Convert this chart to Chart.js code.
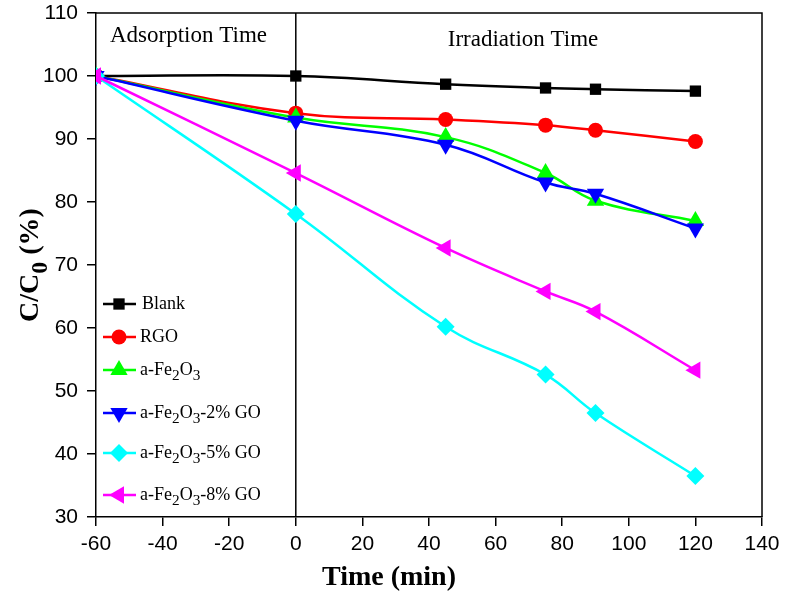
<!DOCTYPE html>
<html lang="en">
<head>
    <meta charset="UTF-8">
    <title>C/C0 vs time</title>
    <script src="https://cdn.jsdelivr.net/npm/chart.js"></script>
    <style>
        html, body { margin: 0; padding: 0; background: #fff; }
        #wrap { width: 786px; height: 596px; }
    </style>
</head>
<body>
<div id="wrap"><canvas id="chart" width="786" height="596"></canvas></div>
<script>
    // data
    const times = [-60, 0, 45, 75, 90, 120];
    const blank = [100, 100, 98.7, 98.1, 97.9, 97.6];
    const rgo = [100, 94.1, 93.1, 92.2, 91.4, 89.6];
    const fe2o3 = [100, 93.4, 90.3, 84.6, 80.2, 77.0];
    const go2 = [100, 92.9, 89.1, 83.1, 81.3, 75.8];
    const go5 = [100, 78.1, 60.2, 52.6, 46.5, 36.5];
    const go8 = [100, 84.6, 72.7, 65.8, 62.6, 53.3];

    const xTicks = [-60, -40, -20, 0, 20, 40, 60, 80, 100, 120, 140];
    const yTicks = [30, 40, 50, 60, 70, 80, 90, 100, 110];

    // label parts: [text, subscript?]
    const labels = [
        [['Blank', false]],
        [['RGO', false]],
        [['a-Fe', false], ['2', true], ['O', false], ['3', true]],
        [['a-Fe', false], ['2', true], ['O', false], ['3', true], ['-2% GO', false]],
        [['a-Fe', false], ['2', true], ['O', false], ['3', true], ['-5% GO', false]],
        [['a-Fe', false], ['2', true], ['O', false], ['3', true], ['-8% GO', false]]
    ];
    const seriesValues = [blank, rgo, fe2o3, go2, go5, go8];
    const colors = ['#000000', '#ff0000', '#00ff00', '#0000ff', '#00ffff', '#ff00ff'];
    const styles = ['rect', 'circle', 'triangle', 'triangle', 'rectRot', 'triangle'];
    const rotations = [0, 0, 0, 180, 0, -90];
    const radii = [8, 7.5, 10, 10, 9, 10];

    const serif = '"Liberation Serif", "Times New Roman", serif';
    const sans = '"Liberation Sans", Arial, sans-serif';

    function drawRich(ctx, parts, x, y, size, bold) {
        ctx.textBaseline = 'middle';
        ctx.textAlign = 'left';
        for (const [t, sub] of parts) {
            const s = sub ? size * 0.85 : size;
            ctx.font = (bold ? 'bold ' : '') + s + 'px ' + serif;
            ctx.fillText(t, x, sub ? y + size * 0.35 : y);
            x += ctx.measureText(t).width;
        }
        return x;
    }

    function richWidth(ctx, parts, size, bold) {
        let w = 0;
        for (const [t, sub] of parts) {
            ctx.font = (bold ? 'bold ' : '') + (sub ? size * 0.85 : size) + 'px ' + serif;
            w += ctx.measureText(t).width;
        }
        return w;
    }

    const datasets = seriesValues.map((vals, i) => ({
        label: labels[i].map(p => p[0]).join(''),
        data: times.map((t, j) => ({ x: t, y: vals[j] })),
        borderColor: colors[i],
        backgroundColor: colors[i],
        borderWidth: 2.5,
        pointStyle: styles[i],
        rotation: rotations[i],
        pointRadius: radii[i],
        pointBorderWidth: 0,
        tension: 0.4,
        order: 6 - i
    }));

    const extras = {
        id: 'extras',
        beforeDatasetsDraw(chart) {
            const { ctx, chartArea: a, scales: { x } } = chart;
            ctx.save();
            ctx.strokeStyle = '#000';
            ctx.lineWidth = 1.5;
            ctx.beginPath();
            ctx.moveTo(a.left, a.top);
            ctx.lineTo(a.right, a.top);
            ctx.lineTo(a.right, a.bottom);
            const x0 = x.getPixelForValue(0);
            ctx.moveTo(x0, a.top);
            ctx.lineTo(x0, a.bottom);
            ctx.stroke();

            ctx.fillStyle = '#000';
            ctx.font = '23px ' + serif;
            ctx.textBaseline = 'middle';
            ctx.textAlign = 'left';
            ctx.fillText('Adsorption Time', 110, 36);
            ctx.textAlign = 'center';
            ctx.fillText('Irradiation Time', 523, 40);
            ctx.restore();
        },
        afterDraw(chart) {
            const { ctx, chartArea: a } = chart;
            ctx.save();
            // legend
            const rowY = [304, 337, 370, 413, 453, 495];
            chart.data.datasets.forEach((ds, i) => {
                const y = rowY[i];
                ctx.strokeStyle = ds.borderColor;
                ctx.lineWidth = 2.5;
                ctx.beginPath();
                ctx.moveTo(103, y);
                ctx.lineTo(136, y);
                ctx.stroke();
                ctx.fillStyle = ds.backgroundColor;
                Chart.helpers.drawPoint(ctx, {
                    pointStyle: ds.pointStyle,
                    rotation: ds.rotation,
                    radius: ds.pointRadius,
                    borderWidth: 0
                }, 119, y);
                ctx.fillStyle = '#000';
                drawRich(ctx, labels[i], i === 0 ? 142 : 140, y, 18, false);
            });

            // axis titles
            ctx.fillStyle = '#000';
            ctx.font = 'bold 28px ' + serif;
            ctx.textAlign = 'center';
            ctx.textBaseline = 'middle';
            ctx.fillText('Time (min)', 389, 578);

            const yParts = [['C/C', false], ['0', true], [' (%)', false]];
            const w = richWidth(ctx, yParts, 28, true);
            ctx.translate(31, (a.top + a.bottom) / 2);
            ctx.rotate(-Math.PI / 2);
            drawRich(ctx, yParts, -w / 2, 0, 28, true);
            ctx.restore();
        }
    };

    new Chart(document.getElementById('chart'), {
        type: 'line',
        data: { datasets },
        options: {
            responsive: false,
            animation: false,
            layout: { padding: { top: 13, right: 24, left: 0, bottom: 0 } },
            plugins: { legend: { display: false }, tooltip: { enabled: false } },
            scales: {
                x: {
                    type: 'linear',
                    min: -60,
                    max: 140,
                    afterBuildTicks: s => { s.ticks = xTicks.map(v => ({ value: v })); },
                    afterFit: s => { s.height = 79; s.paddingLeft = 0; s.paddingRight = 0; },
                    grid: { drawOnChartArea: false, color: '#000', lineWidth: 1.5, tickLength: 9 },
                    border: { color: '#000', width: 1.5 },
                    ticks: { color: '#000', font: { family: sans, size: 21 }, padding: 6, maxRotation: 0 }
                },
                y: {
                    min: 30,
                    max: 110,
                    afterBuildTicks: s => { s.ticks = yTicks.map(v => ({ value: v })); },
                    afterFit: s => { s.width = 96; s.paddingTop = 0; s.paddingBottom = 0; },
                    grid: { drawOnChartArea: false, color: '#000', lineWidth: 1.5, tickLength: 9 },
                    border: { color: '#000', width: 1.5 },
                    ticks: { color: '#000', font: { family: sans, size: 21 }, padding: 9 }
                }
            }
        },
        plugins: [extras]
    });
</script>
</body>
</html>
